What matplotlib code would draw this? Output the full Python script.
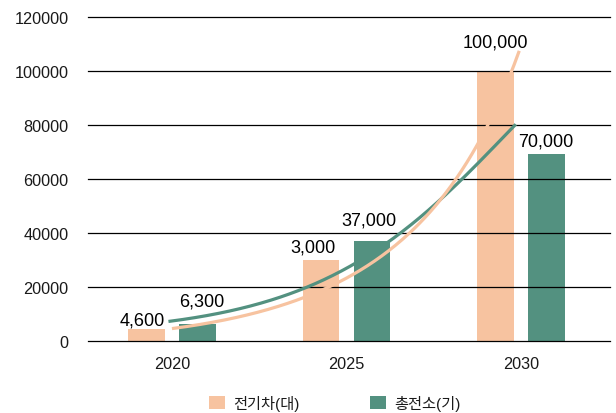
import numpy as np
import matplotlib
matplotlib.use('Agg')
import matplotlib.pyplot as plt

plt.rcParams['font.family'] = ['Liberation Sans', 'Noto Sans CJK KR', 'DejaVu Sans']

# DADOS
anos = ['2020', '2025', '2030']
carro_eletrico = [4600, 30000, 100000]     # 전기차(대)
carregadores = [6300, 37000, 69300]        # 총전소(기)
rotulos_carro = ['4,600', '3,000', '100,000']
rotulos_carreg = ['6,300', '37,000', '70,000']

# linhas de tendência (posição na categoria, valor)
tend_x_carro = [0.00, 0.12, 0.31, 0.50, 0.67, 0.84, 1.03, 1.22, 1.39, 1.50, 1.61, 1.75, 1.95, 1.99]
tend_carro = [4700, 5670, 7520, 10850, 14330, 19260, 24190, 31590, 40850, 48890, 58780, 74820, 100120, 106930]
tend_x_carreg = [-0.02, 0.12, 0.31, 0.50, 0.67, 0.84, 1.03, 1.22, 1.39, 1.48, 1.61, 1.75, 1.86, 1.97]
tend_carreg = [7300, 8520, 10630, 13700, 17410, 22960, 27890, 34700, 43330, 48260, 58780, 66190, 72960, 79520]

cor_carro = '#F7C3A0'
cor_carreg = '#539180'


def curva_suave(xs, ys):
    # ajuste em escala log (linha de tendência) para suavizar os pontos lidos
    coef = np.polyfit(xs, np.log(ys), 3)
    xx = np.linspace(xs[0], xs[-1], 200)
    return xx, np.exp(np.polyval(coef, xx))


fig = plt.figure(figsize=(6.16, 4.14), dpi=100)
ax = fig.add_axes([88/616, 1-342/414, (610-88)/616, (342-18)/414])

x = np.arange(len(anos))
largura = 0.21
desloc = 0.146

b1 = ax.bar(x - desloc, carro_eletrico, largura, color=cor_carro, zorder=1, label='전기차(대)')
b2 = ax.bar(x + desloc, carregadores, largura, color=cor_carreg, zorder=1, label='총전소(기)')

xx, yy = curva_suave(tend_x_carreg, tend_carreg)
ax.plot(xx, yy, color=cor_carreg, lw=2.3, zorder=3, solid_capstyle='butt')
xx, yy = curva_suave(tend_x_carro, tend_carro)
ax.plot(xx, yy, color=cor_carro, lw=2.3, zorder=3, solid_capstyle='butt')

# grade por cima das barras
ax.set_axisbelow(False)
ax.grid(axis='y', color='black', lw=0.9)
ax.set_ylim(0, 120000)
ax.set_yticks(range(0, 120001, 20000))
ax.set_xlim(-0.481, 2.51)
ax.set_xticks(x)
ax.set_xticklabels(anos)
for linha in ax.get_ygridlines():
    linha.set_clip_on(False)
for s in ax.spines.values():
    s.set_visible(False)
ax.tick_params(axis='y', length=0, pad=14, labelsize=11.7, labelcolor='#1a1a1a')
ax.tick_params(axis='x', length=0, pad=11, labelsize=11.7, labelcolor='#1a1a1a')

# rótulos de dados (deslocamento em pixels)
desl_carro = [(-4, 4), (-8, 8), (0, 24)]
desl_carreg = [(4, 18), (-3, 17), (-1, 8)]
for i in range(len(anos)):
    ax.annotate(rotulos_carro[i], (x[i] - desloc, carro_eletrico[i]),
                xytext=(desl_carro[i][0]*0.72, desl_carro[i][1]*0.72), textcoords='offset points',
                ha='center', va='baseline', fontsize=13, color='black', zorder=4)
    ax.annotate(rotulos_carreg[i], (x[i] + desloc, carregadores[i]),
                xytext=(desl_carreg[i][0]*0.72, desl_carreg[i][1]*0.72), textcoords='offset points',
                ha='center', va='baseline', fontsize=13, color='black', zorder=4)

fig.legend(handles=[b1, b2], loc='center', bbox_to_anchor=(335/616, 1-404/414), ncol=2,
           frameon=False, fontsize=11, handlelength=1.05, handleheight=0.9,
           handletextpad=0.55, columnspacing=4.6, borderpad=0, labelcolor='#1a1a1a')

plt.savefig('out.png', dpi=100)
